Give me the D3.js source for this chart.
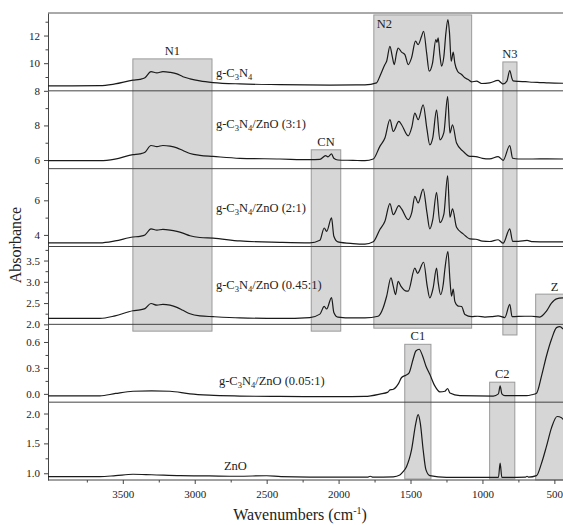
<!DOCTYPE html>
<html>
<head>
<meta charset="utf-8">
<script src="https://cdn.jsdelivr.net/npm/d3@7"></script>
<style>
  body { margin: 0; background: #fff; }
  svg text { font-family: "Liberation Serif", "Times New Roman", Times, "DejaVu Serif", serif; fill: #222; }
</style>
</head>
<body>
<svg id="chart" width="563" height="525"></svg>
<script>
// FTIR spectra: [wavenumber (cm-1), absorbance]
const gcn = [
  [4020,8.36],[3659,8.37],[3554,8.5],[3429,8.77],[3381,8.83],[3346,8.95],[3304,9.39],[3263,9.30],
  [3221,9.39],[3172,9.34],[3124,9.23],[3082,9.02],[3033,8.87],[2964,8.72],[2873,8.6],[2686,8.5],
  [2408,8.45],[2060,8.42],[1817,8.43],[1736,8.58],[1713,9.06],[1678,9.9],[1666,10.14],[1643,11.22],
  [1627,10.5],[1613,9.9],[1597,10.74],[1586,11.1],[1562,10.8],[1539,10.62],[1516,9.9],[1493,10.38],
  [1465,11.59],[1447,11.34],[1423,11.95],[1409,12.31],[1388,10.74],[1370,9.42],[1347,10.0],
  [1324,11.7],[1316,11.5],[1308,11.83],[1296,10.62],[1284,9.78],[1268,10.5],[1254,12.19],[1240,13.15],
  [1229,12.19],[1217,10.14],[1203,10.8],[1192,10.0],[1173,9.42],[1145,9.18],[1122,8.94],[1099,8.82],
  [1076,8.65],[1041,8.7],[1006,8.53],[950,8.58],[891,8.75],[870,8.58],[856,8.5],[830,8.7],[810,9.47],
  [795,8.9],[787,8.72],[750,8.68],[700,8.66],[650,8.62],[600,8.6],[540,8.57],[440,8.55]
];
const gcnZnO31 = [
  [4020,5.96],[3659,5.96],[3554,6.05],[3429,6.31],[3381,6.36],[3346,6.45],[3304,6.84],[3263,6.78],
  [3221,6.84],[3172,6.8],[3124,6.7],[3082,6.55],[3033,6.38],[2964,6.27],[2873,6.21],[2686,6.1],
  [2408,6.06],[2200,6.02],[2130,6.04],[2090,6.25],[2074,6.18],[2049,6.35],[2033,6.1],[2005,6.0],
  [1900,5.98],[1817,5.96],[1759,6.06],[1713,6.79],[1678,7.27],[1643,8.33],[1620,7.65],[1581,8.23],
  [1562,8.04],[1516,7.4],[1491,7.9],[1470,8.71],[1447,8.33],[1412,9.19],[1386,7.8],[1366,6.88],
  [1345,7.3],[1319,8.9],[1296,7.17],[1268,7.6],[1242,9.67],[1226,7.56],[1208,8.04],[1180,6.98],
  [1134,6.5],[1087,6.21],[1046,6.2],[1000,6.1],[950,6.07],[891,6.2],[856,5.98],[810,6.84],[790,6.1],
  [750,6.06],[650,6.06],[550,6.07],[440,6.06]
];
const gcnZnO21 = [
  [4020,3.54],[3659,3.54],[3554,3.65],[3429,3.88],[3381,3.92],[3346,4.0],[3304,4.35],[3263,4.28],
  [3221,4.32],[3172,4.28],[3124,4.2],[3082,4.1],[3033,3.95],[2964,3.85],[2873,3.81],[2686,3.65],
  [2408,3.57],[2200,3.54],[2130,3.69],[2100,4.4],[2083,4.21],[2049,4.98],[2033,3.92],[2005,3.6],
  [1900,3.5],[1817,3.47],[1759,3.6],[1713,4.31],[1678,4.79],[1643,5.81],[1620,5.17],[1581,5.69],
  [1562,5.5],[1516,4.88],[1491,5.3],[1470,6.23],[1447,5.85],[1412,6.65],[1386,5.3],[1366,4.35],
  [1345,4.9],[1319,6.46],[1296,4.71],[1268,5.2],[1242,7.42],[1226,5.02],[1208,5.5],[1180,4.44],
  [1134,4.06],[1087,3.77],[1046,3.75],[1000,3.64],[950,3.62],[891,3.72],[856,3.52],[810,4.35],
  [790,3.63],[750,3.63],[690,3.68],[650,3.61],[550,3.6],[440,3.6]
];
const gcnZnO045 = [
  [4020,2.14],[3659,2.14],[3554,2.2],[3429,2.32],[3381,2.34],[3346,2.37],[3304,2.49],[3263,2.45],
  [3221,2.47],[3172,2.45],[3124,2.4],[3082,2.33],[3033,2.25],[2964,2.2],[2873,2.18],[2686,2.15],
  [2408,2.14],[2200,2.16],[2130,2.24],[2100,2.42],[2083,2.36],[2049,2.63],[2033,2.28],[2005,2.17],
  [1900,2.15],[1817,2.15],[1725,2.19],[1690,2.39],[1666,2.66],[1636,3.09],[1620,2.9],[1604,2.7],
  [1586,3.01],[1567,2.9],[1527,2.78],[1516,2.78],[1470,3.32],[1451,3.2],[1409,3.46],[1384,2.9],
  [1366,2.62],[1343,2.85],[1319,3.32],[1308,3.0],[1291,2.7],[1273,2.93],[1261,3.3],[1240,3.71],
  [1226,3.05],[1215,2.66],[1203,2.83],[1192,2.54],[1169,2.43],[1145,2.42],[1122,2.23],[1076,2.18],
  [1032,2.19],[983,2.17],[937,2.18],[891,2.2],[844,2.16],[810,2.47],[794,2.18],[705,2.19],[657,2.19],
  [602,2.17],[555,2.31],[520,2.5],[485,2.6],[440,2.62]
];
const gcnZnO005 = [
  [4020,-0.023],[3659,-0.023],[3550,0.005],[3429,0.03],[3300,0.035],[3172,0.03],[3033,0.0],
  [2900,-0.015],[2686,-0.025],[2408,-0.03],[2000,-0.033],[1817,-0.03],[1713,-0.003],[1657,0.02],
  [1643,0.046],[1623,0.05],[1586,0.112],[1562,0.189],[1532,0.216],[1511,0.24],[1482,0.4],
  [1463,0.496],[1440,0.516],[1416,0.438],[1393,0.323],[1366,0.227],[1331,0.092],[1296,0.023],
  [1261,0.03],[1242,0.062],[1226,0.01],[1157,-0.02],[925,-0.025],[889,0.0],[877,0.092],[865,0.0],
  [844,-0.02],[694,-0.02],[657,-0.01],[624,0.008],[589,0.208],[555,0.438],[520,0.631],[485,0.766],
  [462,0.777],[440,0.75]
];
const zno = [
  [4020,0.943],[3659,0.943],[3550,0.96],[3429,0.983],[3300,0.975],[3100,0.96],[2900,0.955],
  [2700,0.95],[2500,0.958],[2400,0.945],[2000,0.935],[1800,0.935],[1780,0.95],[1760,0.935],
  [1620,0.94],[1574,0.97],[1551,1.027],[1528,1.11],[1493,1.39],[1463,1.84],[1447,1.98],[1432,1.84],
  [1412,1.39],[1393,1.06],[1366,0.96],[1250,0.93],[1000,0.93],[889,0.93],[877,1.17],[865,0.93],
  [700,0.935],[690,0.95],[680,0.935],[624,0.96],[589,1.17],[555,1.45],[520,1.76],[481,1.95],
  [450,1.93],[440,1.9]
];

const spectra = [gcn, gcnZnO31, gcnZnO21, gcnZnO045, gcnZnO005, zno];

// Sample names (subscript digits marked with _)
const sampleNames = ["g-C_3N_4", "g-C_3N_4/ZnO (3:1)", "g-C_3N_4/ZnO (2:1)",
                     "g-C_3N_4/ZnO (0.45:1)", "g-C_3N_4/ZnO (0.05:1)", "ZnO"];
// Where each name sits, in [wavenumber, absorbance] of its own panel
const nameAnchors = [[2853,9.01],[2853,7.86],[2853,5.34],[2853,2.82],[2832,0.10],[2797,1.056]];

// Y ranges and ticks of each stacked panel
const panelDomains = [[8,13.63],[5.5,10],[3.33,7.83],[2.0,3.83],[-0.096,0.804],[0.887,2.19]];
const majorYTicks = [[8,10,12],[6,8],[4,6],[2.0,2.5,3.0,3.5],[0.0,0.3,0.6],[1.0,1.5,2.0]];
const minorYTicks = [[9,11,13],[7,9],[5,7],[2.25,2.75,3.25,3.75],[0.15,0.45,0.75],[1.25,1.75]];
const yTickFormats = ["d","d","d",".1f",".1f",".1f"];

const majorXTicks = [3500,3000,2500,2000,1500,1000,500];
const minorXTicks = [3750,3250,2750,2250,1750,1250,750];

// Highlighted bands: wavenumber span, top [panel, value], bottom [panel, value]
const bandNames = ["N1","CN","N2","N3","Z","C1","C2"];
const bandSpans = [[3430,2880],[2190,1985],[1755,1075],[858,760],[630,400],[1540,1358],[950,775]];
const bandTops = [[0,10.31],[1,6.59],[0,13.49],[0,10.09],[3,2.71],[4,0.573],[4,0.135]];
const bandBottoms = [[3,1.84],[3,1.84],[3,1.91],[3,1.75],[5,0.887],[5,0.904],[5,0.904]];

// ---- layout ----
const SERIF = "'Liberation Serif', 'Times New Roman', Times, 'DejaVu Serif', serif";
const W = 563, H = 525;
const mLeft = 48, mRight = 563, mTop = 13, mBottom = 480;
const nP = spectra.length;
const pH = (mBottom - mTop) / nP;

const svg = d3.select("#chart").attr("font-family", SERIF);
const x = d3.scaleLinear().domain([4020, 440]).range([mLeft, mRight]);
const ys = panelDomains.map((d, i) =>
  d3.scaleLinear().domain(d).range([mTop + (i + 1) * pH, mTop + i * pH]));

// bands
const bands = svg.append("g");
bandNames.forEach((name, i) => {
  const [w0, w1] = bandSpans[i];
  const x0 = x(w0), x1 = Math.min(x(w1), W + 5);
  const yt = ys[bandTops[i][0]](bandTops[i][1]);
  const yb = ys[bandBottoms[i][0]](bandBottoms[i][1]);
  bands.append("rect")
    .attr("x", x0).attr("y", yt).attr("width", x1 - x0).attr("height", yb - yt)
    .attr("fill", "#d6d6d6").attr("stroke", "#9a9a9a").attr("stroke-width", 1);
  const t = bands.append("text").attr("font-size", 12.5).text(name);
  if (name === "N2") {
    t.attr("x", x0 + 3).attr("y", yt + 13);
  } else if (name === "Z") {
    t.attr("x", x(w0) + 19).attr("y", yt - 3).attr("text-anchor", "middle");
  } else {
    t.attr("x", (x(w0) + x(w1)) / 2).attr("y", yt - 4).attr("text-anchor", "middle");
  }
});

// frame top line
svg.append("line").attr("x1", mLeft).attr("x2", mRight).attr("y1", mTop).attr("y2", mTop)
  .attr("stroke", "#555").attr("stroke-width", 1);

// panels
const line = d3.line().curve(d3.curveMonotoneX);
spectra.forEach((data, i) => {
  const y = ys[i];
  const g = svg.append("g");
  // separator / baseline of panel
  g.append("line").attr("x1", mLeft).attr("x2", mRight)
    .attr("y1", mTop + (i + 1) * pH).attr("y2", mTop + (i + 1) * pH)
    .attr("stroke", "#444").attr("stroke-width", 1);

  // y axes
  const ax = g.append("g").attr("transform", `translate(${mLeft},0)`)
    .call(d3.axisLeft(y).tickValues(majorYTicks[i]).tickSize(4).tickSizeOuter(0)
      .tickFormat(d3.format(yTickFormats[i])));
  ax.attr("font-family", SERIF);
  ax.select(".domain").attr("stroke", "#444");
  ax.selectAll(".tick line").attr("stroke", "#444");
  ax.selectAll(".tick text").attr("font-size", 11).attr("fill", "#333").attr("dx", "-1");
  const axm = g.append("g").attr("transform", `translate(${mLeft},0)`)
    .call(d3.axisLeft(y).tickValues(minorYTicks[i]).tickSize(2.5).tickFormat(""));
  axm.select(".domain").remove();
  axm.selectAll(".tick line").attr("stroke", "#444");

  // spectrum
  const pts = data.map(d => [x(d[0]), y(d[1])]).sort((a, b) => a[0] - b[0]);
  g.append("path").attr("d", line(pts)).attr("fill", "none")
    .attr("stroke", "#1a1a1a").attr("stroke-width", 1.2).attr("stroke-linejoin", "round");

  // sample name with subscripts
  const [aw, av] = nameAnchors[i];
  const txt = g.append("text").attr("x", x(aw)).attr("y", y(av)).attr("font-size", 12.5);
  const parts = sampleNames[i].split(/(_\d)/).filter(s => s.length);
  let sub = false;
  parts.forEach(p => {
    if (p.startsWith("_")) {
      txt.append("tspan").attr("font-size", 8.5).attr("dy", 3).text(p.slice(1));
      sub = true;
    } else {
      txt.append("tspan").attr("dy", sub ? -3 : 0).text(p);
      sub = false;
    }
  });
});

// x axis
const xa = svg.append("g").attr("transform", `translate(0,${mBottom})`)
  .call(d3.axisBottom(x).tickValues(majorXTicks).tickSize(4).tickSizeOuter(0).tickFormat(d3.format("d")));
xa.attr("font-family", SERIF);
xa.select(".domain").remove();
xa.selectAll(".tick line").attr("stroke", "#444");
xa.selectAll(".tick text").attr("font-size", 11).attr("fill", "#333").attr("dy", "1.0em");
const xm = svg.append("g").attr("transform", `translate(0,${mBottom})`)
  .call(d3.axisBottom(x).tickValues(minorXTicks).tickSize(2.5).tickFormat(""));
xm.select(".domain").remove();
xm.selectAll(".tick line").attr("stroke", "#444");

// axis titles
const xt = svg.append("text").attr("x", 300).attr("y", 520).attr("text-anchor", "middle")
  .attr("font-size", 16);
xt.append("tspan").text("Wavenumbers (cm");
xt.append("tspan").attr("font-size", 10).attr("dy", -6).text("-1");
xt.append("tspan").attr("dy", 6).text(")");

svg.append("text").attr("transform", `translate(21,245) rotate(-90)`)
  .attr("text-anchor", "middle").attr("font-size", 16).text("Absorbance");

svg.selectAll("text").attr("font-family", SERIF);
</script>
</body>
</html>
